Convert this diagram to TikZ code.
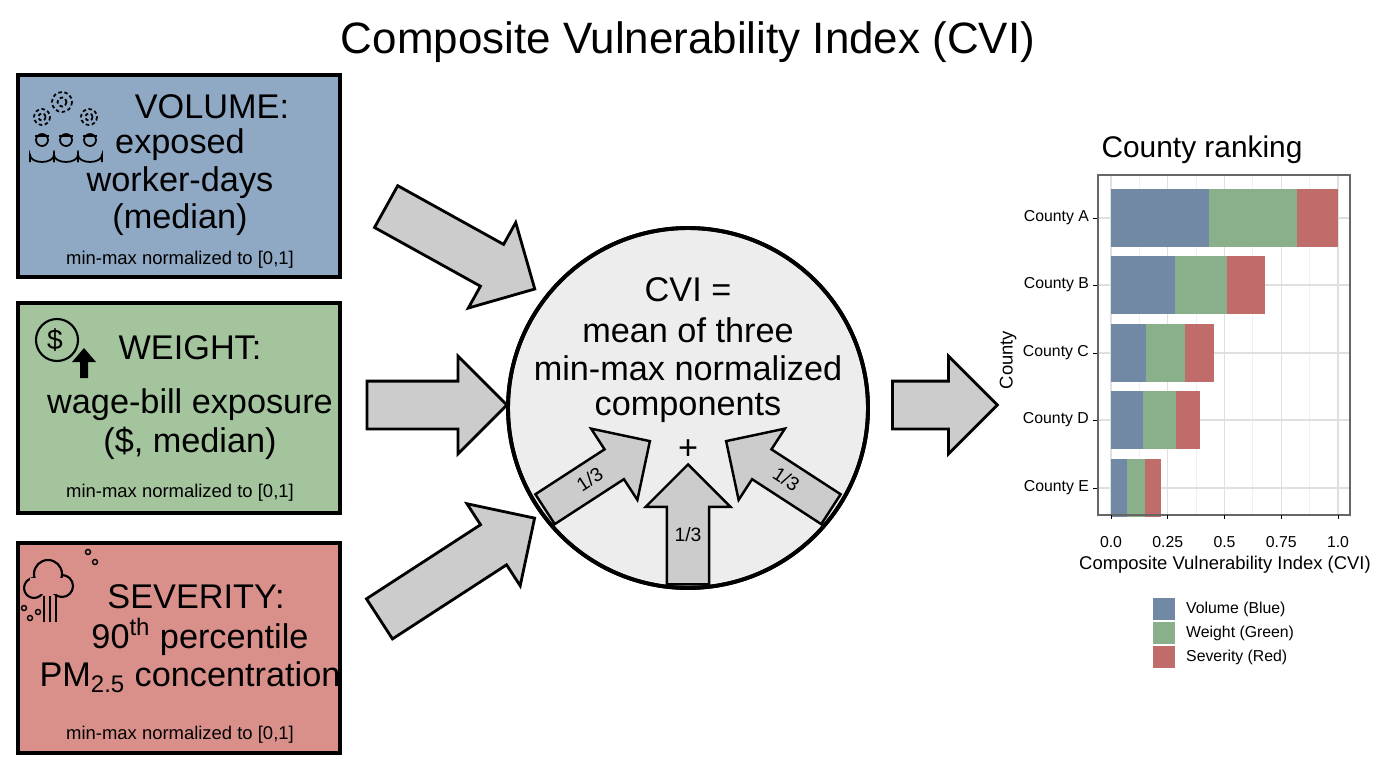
\documentclass[tikz,border=0pt]{standalone}
\usepackage{fontspec}
\setmainfont{Liberation Sans}
\usetikzlibrary{shapes.arrows,positioning}
\definecolor{volbox}{HTML}{8FA8C4}
\definecolor{wgtbox}{HTML}{A3C49C}
\definecolor{sevbox}{HTML}{D9908A}
\definecolor{volbar}{HTML}{7189A4}
\definecolor{wgtbar}{HTML}{89B08B}
\definecolor{sevbar}{HTML}{C06C6A}
\tikzset{
  panel/.style={draw, line width=2.2pt},
  big/.style={font=\fontsize{19.5}{22}\selectfont},
  small/.style={font=\fontsize{10.5}{12}\selectfont},
  fat arrow/.style={single arrow, draw, line width=1.6pt, fill=black!20,
    single arrow head extend=0.5cm, single arrow head indent=0pt,
    inner xsep=0pt, inner ysep=0.45cm, text width=0pt, minimum width=1.9cm},
  thin arrow/.style={single arrow, draw, line width=1.4pt, fill=black!20,
    single arrow head extend=0.42cm, single arrow head indent=0pt,
    inner xsep=0pt, inner ysep=0.12cm, minimum width=1.7cm,
    font=\fontsize{11}{12}\selectfont, text height=8pt, text depth=1pt},
  tick/.style={font=\fontsize{9}{11}\selectfont},
}
\begin{document}
\begin{tikzpicture}[x=0.02cm, y=-0.02cm]
  \useasboundingbox (0,0) rectangle (1376,768);
  \node[font=\fontsize{25}{28}\selectfont] (title) at (688,42) {Composite Vulnerability Index (CVI)};

  % input boxes
  \draw[panel, fill=volbox] (18,75) rectangle (340,277);
  \draw[panel, fill=wgtbox] (18,303) rectangle (340,513);
  \draw[panel, fill=sevbox] (18,543) rectangle (340,753);

  \node[big] (vol) at (212,107) {VOLUME:};
  \node[big] (vol1) at (180,145) {exposed};
  \node[big] (vol2) at (180,183) {worker-days};
  \node[big] (vol3) at (180,220) {(median)};
  \node[small] (voln) at (180,260) {min-max normalized to [0,1]};

  \node[big] (wgt) at (190,348) {WEIGHT:};
  \node[big] (wgt1) at (190,405) {wage-bill exposure};
  \node[big] (wgt2) at (190,443) {(\$, median)};
  \node[small] (wgtn) at (180,493) {min-max normalized to [0,1]};

  \node[big] (sev) at (196,597) {SEVERITY:};
  \node[big] (sev1) at (200,637) {90\textsuperscript{th} percentile};
  \node[big] (sev2) at (190,677) {PM\textsubscript{2.5} concentration};
  \node[small] (sevn) at (180,735) {min-max normalized to [0,1]};

  % icons
  \foreach \gx/\gy/\gr in {62/102/10, 42/117/8, 89/117/8}
    \draw[line width=1pt, dash pattern=on 2pt off 1.5pt] (\gx,\gy) circle (\gr)
      (\gx,\gy) circle (\gr/2.2);
  \foreach \wx in {42,66,90}{
    \draw[line width=1pt] (\wx,140) circle (6);
    \draw[line width=1pt] (\wx-7,136) -- (\wx+7,136);
    \draw[line width=1pt] (\wx-12,162) -- (\wx-12,155) arc (180:0:12 and 7) -- (\wx+12,162);
  }
  \draw[line width=1.2pt] (57,340) circle (21);
  \node[font=\fontsize{16}{17}\selectfont] (dollar) at (55,340) {\$};
  \fill (80,378) rectangle (88,360) (72,362) -- (84,348) -- (96,362) -- cycle;
  \foreach \cx/\cy/\cr in {34/588/10, 62/586/11, 48/574/14}
    \draw[line width=1.2pt, fill=sevbox] (\cx,\cy) circle (\cr);
  \fill[sevbox] (30,578) rectangle (66,594);
  \foreach \dx/\dy in {88/552,95/562,24/608,30/618,38/612}
    \draw[line width=0.8pt] (\dx,\dy) circle (2.5);
  \foreach \dx in {44,50,56}
    \draw[line width=0.8pt] (\dx,596) -- (\dx,622);

  % big arrows
  \node[fat arrow, minimum height=3.4cm, rotate=-29] (a1) at (450,242) {};
  \node[fat arrow, minimum height=2.8cm] (a2) at (425,405) {};
  \node[fat arrow, minimum height=3.7cm, rotate=33] (a3) at (447,575) {};
  \node[fat arrow, minimum height=2.1cm] (a4) at (933,405) {};

  % CVI circle
  \node[circle, draw, line width=2.2pt, fill=black!7, minimum size=7.2cm] (cvi) at (688,408) {};
  \node[big] (c1) at (688,290) {CVI =};
  \node[big] (c2) at (688,330) {mean of three};
  \node[big] (c3) at (688,368) {min-max normalized};
  \node[big] (c4) at (688,408) {components};
  \node[big] (plus) at (688,450) {+};
  \begin{scope}
    \clip (688,408) circle (179);
    \node[thin arrow, minimum height=2.5cm, rotate=33] (w1) at (590,480) {1/3};
    \node[thin arrow, minimum height=2.4cm, shape border rotate=90, inner xsep=0.12cm, inner ysep=0pt] (w2) at (688,535) {1/3};
    \node[thin arrow, minimum height=2.5cm, rotate=-33, shape border rotate=180] (w3) at (786,480) {1/3};
  \end{scope}
  \draw[line width=2.2pt] (688,408) circle (180);

  % county chart
  \node[font=\fontsize{17}{20}\selectfont] (crank) at (1202,150) {County ranking};
  \foreach \v in {0.125,0.375,0.625,0.875}
    \draw[black!6, line width=0.5pt] (1111+227*\v,175) -- (1111+227*\v,515);
  \foreach \v in {0,0.25,0.5,0.75,1}
    \draw[black!12, line width=0.8pt] (1111+227*\v,175) -- (1111+227*\v,515);
  \foreach \cy in {218,285,353,420,488}
    \draw[black!12, line width=0.8pt] (1098,\cy) -- (1350,\cy);
  \foreach \cy/\b/\g/\r/\nm in {218/0.43/0.82/1.0/A, 285/0.28/0.51/0.68/B,
      353/0.155/0.325/0.455/C, 420/0.14/0.285/0.39/D, 488/0.07/0.15/0.22/E}{
    \fill[volbar] (1111,\cy-29) rectangle (1111+227*\b,\cy+29);
    \fill[wgtbar] (1111+227*\b,\cy-29) rectangle (1111+227*\g,\cy+29);
    \fill[sevbar] (1111+227*\g,\cy-29) rectangle (1111+227*\r,\cy+29);
    \draw (1093,\cy) -- (1098,\cy);
    \node[tick, anchor=east, inner sep=1pt] (lab\nm) at (1091,\cy) {County \nm};
  }
  \draw[black!60, line width=0.8pt] (1098,175) rectangle (1350,515);
  \foreach \v/\t in {0/0.0,0.25/0.25,0.5/0.5,0.75/0.75,1/1.0}{
    \draw (1111+227*\v,515) -- (1111+227*\v,519);
    \node[tick, anchor=north] (tk\t) at (1111+227*\v,530) {\t};
  }
  \node[font=\fontsize{10.5}{12}\selectfont] (xtitle) at (1225,565) {Composite Vulnerability Index (CVI)};
  \node[font=\fontsize{10.5}{12}\selectfont, rotate=90] (ytitle) at (1008,360) {County};
  \foreach \ly/\lc/\lt in {609/volbar/Volume (Blue), 633/wgtbar/Weight (Green), 657/sevbar/Severity (Red)}{
    \fill[\lc] (1153,\ly-11) rectangle (1175,\ly+11);
    \node[tick, anchor=west] at (1180,\ly) {\lt};
  }
\end{tikzpicture}
\end{document}
